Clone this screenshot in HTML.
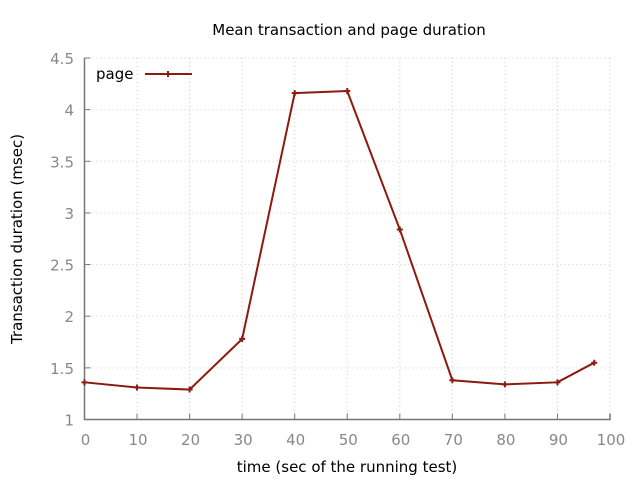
<!DOCTYPE html>
<html><head><meta charset="utf-8"><style>
body{margin:0;background:#fff}
svg{display:block;font-family:"DejaVu Sans","Liberation Sans",sans-serif}
</style></head><body>
<svg id="chart" width="640" height="480">
<text x="349" y="35" text-anchor="middle" font-size="15" fill="#000">Mean transaction and page duration</text>
<text x="347" y="472" text-anchor="middle" font-size="15" fill="#000">time (sec of the running test)</text>
<text transform="translate(22,239) rotate(-90)" text-anchor="middle" font-size="15" fill="#000">Transaction duration (msec)</text>
<g id="grid"></g>
<g id="axes"></g>
<g id="series"></g>
<g>
<text x="96" y="79" font-size="15" fill="#000">page</text>
<line x1="145" y1="74" x2="192" y2="74" stroke="#8b1a10" stroke-width="2"/>
<path d="M165,74h6M168,71v6" stroke="#8b1a10" stroke-width="2"/>
</g>
</svg>
<script>
const xValues=[0,10,20,30,40,50,60,70,80,90,97];
const yValues=[1.36,1.31,1.29,1.78,4.16,4.18,2.84,1.38,1.34,1.36,1.55];
const xTicks=[0,10,20,30,40,50,60,70,80,90,100];
const yTicks=[1,1.5,2,2.5,3,3.5,4,4.5];
const NS="http://www.w3.org/2000/svg";
const X0=84.5,X1=610,Y0=419.5,Y1=58;
const sx=v=>X0+(v-0)/100*(X1-X0);
const sy=v=>Y0-(v-1)/3.5*(Y0-Y1);
function mk(t,a,p){const e=document.createElementNS(NS,t);for(const k in a)e.setAttribute(k,a[k]);p.appendChild(e);return e;}
const grid=document.getElementById('grid'),axes=document.getElementById('axes'),ser=document.getElementById('series');
xTicks.forEach((t,i)=>{
 const x=sx(t);
 if(i>0){const g=mk('line',{x1:x,y1:Y1,x2:x,y2:Y0,stroke:'#ccc','stroke-dasharray':'1,3'},grid);
 
 }
 const tk=mk('line',{x1:x,y1:Y0,x2:x,y2:Y0-6,stroke:'#777'},axes);
 
 
 const tx=mk('text',{x:x+1,y:445,'text-anchor':'middle','font-size':'15',fill:'#888'},axes);
 tx.textContent=t;
 
 
});
yTicks.forEach((t,i)=>{
 const y=sy(t);
 if(i>0){const g=mk('line',{x1:X0,y1:y,x2:X1,y2:y,stroke:'#ccc','stroke-dasharray':'1,3'},grid);
 
 }
 const tk=mk('line',{x1:X0,y1:y,x2:X0+6,y2:y,stroke:'#777'},axes);
 
 
 const tx=mk('text',{x:74,y:y+6,'text-anchor':'end','font-size':'15',fill:'#888'},axes);
 tx.textContent=t;
 
 
});
const ax=mk('path',{d:`M${X0},${Y1}V${Y0}H${X1}V${Y0-6}`,fill:'none',stroke:'#777','stroke-width':1.5},axes);


const pts=xValues.map((v,i)=>sx(v)+','+sy(yValues[i])).join(' ');
const pl=mk('polyline',{points:pts,fill:'none',stroke:'#8b1a10','stroke-width':2},ser);


xValues.forEach((v,i)=>{
 const x=sx(v),y=sy(yValues[i]);
 const m=mk('path',{d:`M${x-3},${y}h6M${x},${y-3}v6`,stroke:'#8b1a10','stroke-width':2},ser);
 
 
});
</script>
</body></html>
